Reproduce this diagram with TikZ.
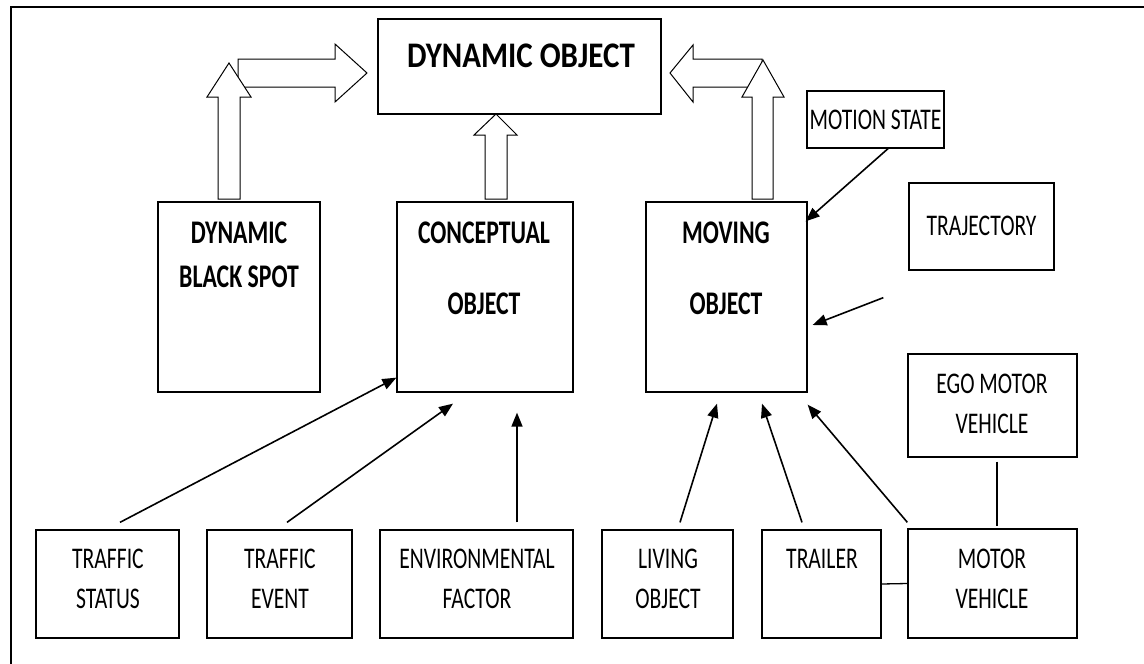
\documentclass[tikz,border=0pt]{standalone}
\usepackage{fontspec}
\setmainfont{Carlito}[FakeStretch=0.72]
\newfontfamily\headfont{Carlito}[FakeStretch=0.86]
\usetikzlibrary{arrows.meta}

\tikzset{
  box/.style={draw, line width=1.3pt, inner sep=0pt, rectangle},
  lbl/.style={inner sep=0pt, anchor=north, align=center, font=\fontsize{30}{40}\selectfont},
  blbl/.style={inner sep=0pt, anchor=north, align=center, font=\bfseries\fontsize{33}{44}\selectfont},
  link/.style={line width=1.6pt, -{Triangle[length=14pt,width=11pt]}},
  tie/.style={line width=1.3pt},
  hollow/.style={draw, fill=white, line width=1pt, line join=miter},
}

\begin{document}
\begin{tikzpicture}[x=1pt, y=-1pt]
\useasboundingbox (0,0) rectangle (1144,664);

% page frame (top and left rules)
\draw[line width=2.4pt] (11,664) -- (11,7) -- (1144,7);

% boxes
\node[box, minimum width=283, minimum height=95]  (do)  at (519.5,66.5) {};
\node[box, minimum width=162, minimum height=190] (dbs) at (239,297) {};
\node[box, minimum width=176, minimum height=190] (co)  at (485,297) {};
\node[box, minimum width=161, minimum height=190] (mo)  at (726.5,297) {};
\node[box, minimum width=137, minimum height=57]  (ms)  at (875.5,119.5) {};
\node[box, minimum width=145, minimum height=87]  (tj)  at (981.5,226.5) {};
\node[box, minimum width=169, minimum height=103] (ego) at (992.5,405.5) {};
\node[box, minimum width=143, minimum height=108] (ts)  at (107.5,584) {};
\node[box, minimum width=145, minimum height=108] (te)  at (279.5,584) {};
\node[box, minimum width=193, minimum height=108] (ef)  at (476.5,584) {};
\node[box, minimum width=131, minimum height=108] (lo)  at (667.5,584) {};
\node[box, minimum width=119, minimum height=108] (tr)  at (821.5,584) {};
\node[box, minimum width=169, minimum height=109] (mv)  at (992.5,583.5) {};

% box texts
\node[inner sep=0pt, anchor=north, font=\headfont\bfseries\fontsize{36}{40}\selectfont] (doT) at (521,44) {DYNAMIC OBJECT};
\node[blbl] (dbsT) at (239,222) {DYNAMIC\\BLACK SPOT};
\node[blbl] (coT)  at (484,222) {CONCEPTUAL\\[27pt]OBJECT};
\node[blbl] (moT)  at (726,222) {MOVING\\[27pt]OBJECT};
\node[lbl] (msT)  at (875.5,110) {MOTION STATE};
\node[lbl] (tjT)  at (981.5,216) {TRAJECTORY};
\node[lbl] (egoT) at (992,374) {EGO MOTOR\\VEHICLE};
\node[lbl] (tsT)  at (108,549) {TRAFFIC\\STATUS};
\node[lbl] (teT)  at (280,549) {TRAFFIC\\EVENT};
\node[lbl] (efT)  at (477,549) {ENVIRONMENTAL\\FACTOR};
\node[lbl] (loT)  at (668,549) {LIVING\\OBJECT};
\node[lbl] (trT)  at (822,549) {TRAILER};
\node[lbl] (mvT)  at (992,549) {MOTOR\\VEHICLE};

% thin arrows
\draw[link] ([xshift=12.5pt,yshift=7pt]ts.north) -- ([yshift=15pt]co.south west);
\draw[link] ([xshift=7.5pt,yshift=7pt]te.north)  -- ([xshift=-32pt,yshift=-11pt]co.south);
\draw[link] ([xshift=40.5pt,yshift=7pt]ef.north) -- ([xshift=32pt,yshift=-20pt]co.south);
\draw[link] ([xshift=12.5pt,yshift=7pt]lo.north) -- ([xshift=-9.5pt,yshift=-11pt]mo.south);
\draw[link] ([xshift=-19.5pt,yshift=7pt]tr.north) -- ([xshift=35.5pt,yshift=-11pt]mo.south);
\draw[link] ([yshift=6pt]mv.north west) -- ([yshift=-12pt]mo.south east);
\draw[link] ([xshift=12.5pt]ms.south) -- ([xshift=-2pt,yshift=-20pt]mo.north east);
\draw[link] ([xshift=-25pt,yshift=-27pt]tj.south west) -- ([xshift=5pt,yshift=-28pt]mo.east);

% plain ties
\draw[tie] ([xshift=4.5pt,yshift=-4pt]ego.south) -- ([xshift=4.5pt,yshift=2pt]mv.north);
\draw[tie] (tr.east) -- (mv.west);

% hollow block arrows, left pair
\draw[hollow] (238,59) -- (335,59) -- (335,44) -- (367,73) -- (335,102) -- (335,87) -- (238,87) -- cycle;
\draw[hollow] (218,199) -- (218,97) -- (207,97) -- (229,63) -- (251,97) -- (240,97) -- (240,199) -- cycle;

% hollow block arrow, centre
\draw[hollow] (485,199) -- (485,135) -- (474,135) -- (496,114) -- (517,135) -- (507,135) -- (507,199) -- cycle;

% hollow block arrows, right pair
\draw[hollow] (762,59) -- (693,59) -- (693,45) -- (670,73) -- (693,102) -- (693,87) -- (762,87) -- cycle;
\draw[hollow] (752,199) -- (752,97) -- (742,97) -- (763,60) -- (784,97) -- (773,97) -- (773,199) -- cycle;
\end{tikzpicture}
\end{document}
